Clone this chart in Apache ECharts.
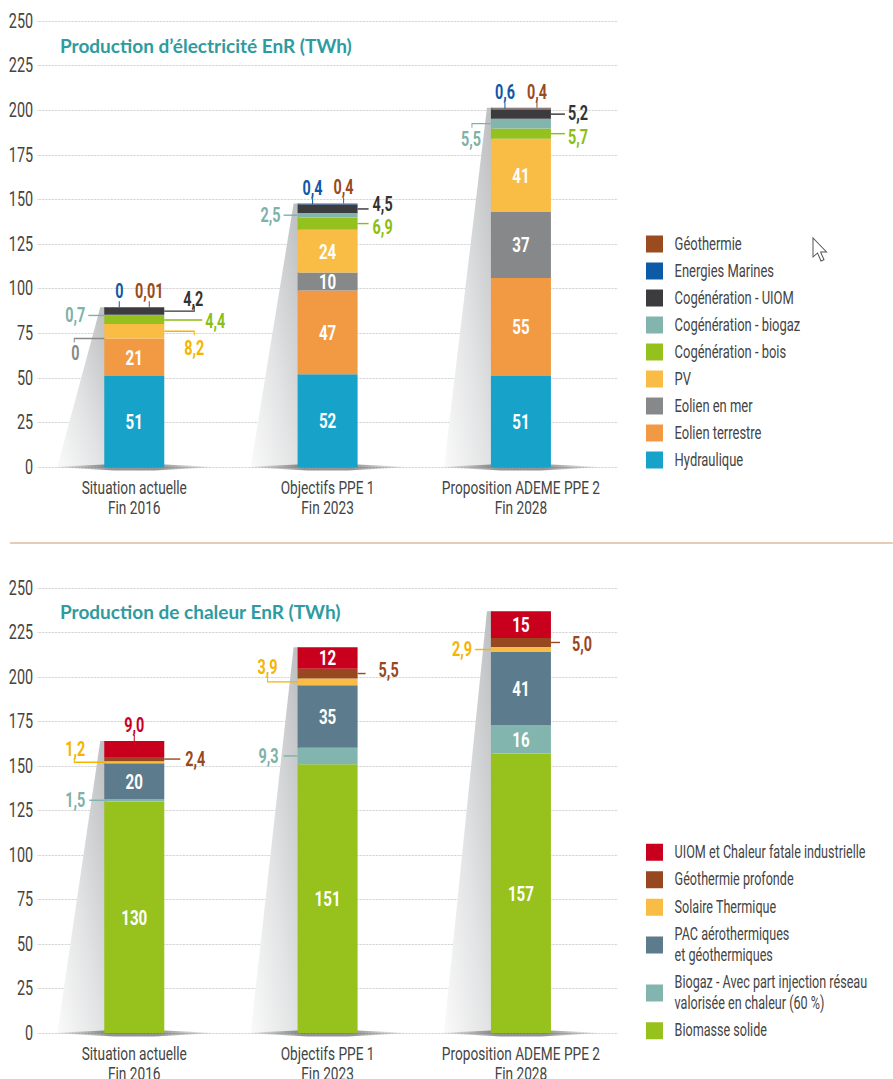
<!DOCTYPE html>
<html><head><meta charset="utf-8">
<script src="https://cdn.jsdelivr.net/npm/echarts@6/dist/echarts.min.js"></script>
<style>
html,body{margin:0;padding:0;background:#fff;overflow:hidden;width:893px;height:1079px}
#c{width:1240px;height:1079px;transform:scaleX(0.72);transform-origin:0 0}
</style>
</head><body><div id="c"></div>
<script>
// ---------- DATA ----------
const categories = ['Situation actuelle\nFin 2016', 'Objectifs PPE 1\nFin 2023', 'Proposition ADEME PPE 2\nFin 2028'];
const yTicks = [0, 25, 50, 75, 100, 125, 150, 175, 200, 225, 250];

// Electricity (stack order bottom -> top)
const elecNames = ['Hydraulique', 'Eolien terrestre', 'Eolien en mer', 'PV', 'Cogénération - bois',
  'Cogénération - biogaz', 'Cogénération - UIOM', 'Energies Marines', 'Géothermie'];
const elecHydraulique   = [51, 52, 51];
const elecEolienTerre   = [21, 47, 55];
const elecEolienMer     = [0, 10, 37];
const elecPV            = [8.2, 24, 41];
const elecCogenBois     = [4.4, 6.9, 5.7];
const elecCogenBiogaz   = [0.7, 2.5, 5.5];
const elecCogenUIOM     = [4.2, 4.5, 5.2];
const elecMarines       = [0, 0.4, 0.6];
const elecGeothermie    = [0.01, 0.4, 0.4];

// Heat (stack order bottom -> top)
const chalNames = ['Biomasse solide', 'Biogaz - Avec part injection réseau\nvalorisée en chaleur (60 %)',
  'PAC aérothermiques\net géothermiques', 'Solaire Thermique', 'Géothermie profonde',
  'UIOM et Chaleur fatale industrielle'];
const chalBiomasse = [130, 151, 157];
const chalBiogaz   = [1.5, 9.3, 16];
const chalPAC      = [20, 35, 41];
const chalSolaire  = [1.2, 3.9, 2.9];
const chalGeo      = [2.4, 5.5, 5.0];
const chalUIOM     = [9.0, 12, 15];

const titles = ['Production d’électricité EnR (TWh)', 'Production de chaleur EnR (TWh)'];

// ---------- STYLE ----------
const S = 0.72;                 // horizontal condensation of the page (DIN-condensed look)
const X = v => v / S;           // screen px -> chart px (horizontal)
const FONT = "Roboto, 'DejaVu Sans', sans-serif";
const BAR_W = 60;               // screen px
const elecColors = ['#17a2c9', '#f29a43', '#87888a', '#f9bd45', '#95c11f', '#82b5ad', '#3c3c3e', '#0d5aa7', '#9a4b20'];
const elecLabelColors = ['#17a2c9', '#f29a43', '#8a8a8a', '#f5b400', '#8cbd14', '#7db2a9', '#333333', '#0f58a6', '#9a4a1f'];
const chalColors = ['#97c11c', '#82b5ad', '#5c7b8c', '#f9bd45', '#97481f', '#c8001e'];
const chalLabelColors = ['#97c11c', '#7db2a9', '#5c7b8c', '#f5b400', '#97481f', '#c8001e'];

// callout layouts (screen px offsets, style only): s = series index, c = category index
const elecCallouts = [
  {s:7, c:0, side:'top', dx:-15},
  {s:8, c:0, side:'top', dx:15},
  {s:6, c:0, side:'right', line:[[0,0],[30,0],[30,-5]], lx:29, ly:-12, align:'center'},
  {s:4, c:0, side:'right', line:[[0,0],[38,0]], lx:41, ly:1, align:'left'},
  {s:3, c:0, side:'right', line:[[0,0],[30,0],[30,4]], lx:30, ly:17, align:'center'},
  {s:5, c:0, side:'left', line:[[0,0],[-16,0]], lx:-19, ly:0, align:'right'},
  {s:2, c:0, side:'left', line:[[0,0],[-30,0],[-30,4]], lx:-29, ly:15, align:'center'},
  {s:7, c:1, side:'top', dx:-15},
  {s:8, c:1, side:'top', dx:16},
  {s:6, c:1, side:'right', line:[[0,0],[11,0]], lx:15, ly:-5, align:'left'},
  {s:4, c:1, side:'right', line:[[0,0],[11,0]], lx:15, ly:4, align:'left'},
  {s:5, c:1, side:'left', line:[[0,0],[-14,0]], lx:-17, ly:0, align:'right'},
  {s:7, c:2, side:'top', dx:-16},
  {s:8, c:2, side:'top', dx:16},
  {s:6, c:2, side:'right', line:[[0,0],[14,0]], lx:17, ly:-1, align:'left'},
  {s:4, c:2, side:'right', line:[[0,0],[14,0]], lx:17, ly:3, align:'left'},
  {s:5, c:2, side:'left', line:[[0,0],[-19,0],[-19,4]], lx:-20, ly:15, align:'center'}
];
const chalCallouts = [
  {s:5, c:0, side:'top', dx:0},
  {s:3, c:0, side:'left', line:[[0,0],[-30,0],[-30,-4]], lx:-29, ly:-13, align:'center'},
  {s:4, c:0, side:'right', line:[[0,0],[16,0]], lx:21, ly:0, align:'left'},
  {s:1, c:0, side:'left', line:[[0,0],[-15,0]], lx:-19, ly:0, align:'right'},
  {s:1, c:1, side:'left', line:[[0,0],[-14,0]], lx:-19, ly:0, align:'right'},
  {s:3, c:1, side:'left', line:[[0,0],[-30,0],[-30,-5]], lx:-30, ly:-15, align:'center'},
  {s:4, c:1, side:'right', line:[[0,0],[8,0]], lx:21, ly:-3, align:'left'},
  {s:3, c:2, side:'left', line:[[0,0],[-16,0]], lx:-19, ly:0, align:'right'},
  {s:4, c:2, side:'right', line:[[0,0],[9,0]], lx:21, ly:2, align:'left'}
];

function fmt(v) {
  if (v === 0) return '0';
  if (v < 0.1) return String(v).replace('.', ',');
  if (v >= 10) return String(Math.round(v));
  return v.toFixed(1).replace('.', ',');
}

function cumulative(seriesData) {
  const n = seriesData[0].length;
  const lows = [], highs = [];
  const acc = new Array(n).fill(0);
  seriesData.forEach(d => {
    lows.push(acc.slice());
    d.forEach((v, i) => acc[i] += v);
    highs.push(acc.slice());
  });
  return {lows, highs, totals: acc};
}

function buildSeries(g, names, seriesData, colors, labelColors, callouts) {
  const cum = cumulative(seriesData);
  const out = [];
  // shading wedge + base shadow
  out.push({
    type: 'custom', xAxisIndex: g, yAxisIndex: g, z: 1, silent: true,
    data: cum.totals.map((t, i) => [i, t]),
    renderItem: function (params, api) {
      const c = api.value(0);
      const top = api.coord([c, api.value(1)]);
      const base = api.coord([c, 0]);
      const cx = top[0];
      const L = cx - X(BAR_W / 2);
      return {type: 'group', children: [
        {type: 'polygon', shape: {points: [[L - X(4), top[1]], [L + X(2), top[1]], [L + X(2), base[1]], [L - X(47), base[1]]]},
          style: {fill: new echarts.graphic.LinearGradient(1, 0, 0, 1, [
            {offset: 0, color: '#bcbdbf'}, {offset: 0.55, color: '#e2e3e4'}, {offset: 1, color: '#fafafa'}])}},
        {type: 'polygon', shape: {points: [[cx - X(82), base[1]], [cx - X(20), base[1] - 3], [cx + X(20), base[1] - 3],
            [cx + X(82), base[1]], [cx + X(20), base[1] + 3.5], [cx - X(20), base[1] + 3.5]]},
          style: {fill: new echarts.graphic.LinearGradient(0, 0, 1, 0, [
            {offset: 0, color: 'rgba(0,0,0,0)'}, {offset: 0.35, color: 'rgba(0,0,0,0.42)'},
            {offset: 0.65, color: 'rgba(0,0,0,0.42)'}, {offset: 1, color: 'rgba(0,0,0,0)'}])}}
      ]};
    }
  });
  names.forEach((name, s) => {
    out.push({
      type: 'bar', name: name, stack: 'st' + g, xAxisIndex: g, yAxisIndex: g, z: 2,
      barWidth: X(BAR_W), data: seriesData[s],
      itemStyle: {color: colors[s]},
      label: {show: true, position: 'inside', color: '#fff', fontFamily: FONT, fontWeight: 'bold', fontSize: 21,
        formatter: p => (p.value >= 10 ? fmt(p.value) : '')},
      emphasis: {disabled: true}
    });
  });
  out.push({
    type: 'custom', xAxisIndex: g, yAxisIndex: g, z: 5, silent: true,
    data: callouts.map((sp, k) => [sp.c, cum.lows[sp.s][sp.c], cum.highs[sp.s][sp.c], k]),
    renderItem: function (params, api) {
      const sp = callouts[api.value(3)];
      const c = sp.c;
      const lo = api.coord([c, api.value(1)]);
      const hi = api.coord([c, api.value(2)]);
      const cx = lo[0];
      const color = labelColors[sp.s];
      const txt = fmt(seriesData[sp.s][c]);
      let pts, tx, ty, align;
      if (sp.side === 'top') {
        const ax = cx + X(sp.dx), ay = hi[1];
        pts = [[ax, ay], [ax, ay - 6]];
        tx = ax; ty = ay - 16; align = 'center';
      } else {
        const ax = cx + X(sp.side === 'right' ? BAR_W / 2 : -BAR_W / 2);
        const ay = (lo[1] + hi[1]) / 2;
        pts = sp.line.map(p => [ax + X(p[0]), ay + p[1]]);
        tx = ax + X(sp.lx); ty = ay + sp.ly; align = sp.align;
      }
      return {type: 'group', children: [
        {type: 'polyline', shape: {points: pts}, style: {stroke: color, lineWidth: 1.4, fill: null}},
        {type: 'text', x: tx, y: ty, style: {text: txt, fill: color, font: 'bold 20px ' + FONT, align: align, verticalAlign: 'middle'}}
      ]};
    }
  });
  return out;
}

const elecData = [elecHydraulique, elecEolienTerre, elecEolienMer, elecPV, elecCogenBois, elecCogenBiogaz, elecCogenUIOM, elecMarines, elecGeothermie];
const chalData = [chalBiomasse, chalBiogaz, chalPAC, chalSolaire, chalGeo, chalUIOM];

function xAxis(g) {
  return {type: 'category', gridIndex: g, data: categories,
    axisLine: {show: false}, axisTick: {show: false},
    axisLabel: {interval: 0, color: '#444', fontFamily: FONT, fontSize: 19, lineHeight: 20, margin: 11}};
}
function yAxis(g) {
  return {type: 'value', gridIndex: g, min: yTicks[0], max: yTicks[yTicks.length - 1], interval: yTicks[1] - yTicks[0],
    axisLine: {show: false}, axisTick: {show: false},
    axisLabel: {color: '#444', fontFamily: FONT, fontSize: 20, margin: X(4.5)},
    splitLine: {show: true, lineStyle: {color: '#b8b8b8', type: 'dotted', width: 1}}};
}
function legend(names, top, fontSize, lineHeight, gap) {
  return {orient: 'vertical', left: X(646), top: top, padding: 0, itemWidth: X(17), itemHeight: 17, itemGap: gap,
    icon: 'rect', selectedMode: false, data: names.slice().reverse(),
    textStyle: {color: '#444', fontFamily: FONT, fontSize: fontSize, lineHeight: lineHeight, padding: [0, 0, 0, X(8)]}};
}

const chart = echarts.init(document.getElementById('c'), null, {renderer: 'svg'});
chart.setOption({
  animation: false,
  backgroundColor: '#fff',
  grid: [
    {left: X(37.6), top: 21, width: X(580), height: 446, outerBoundsMode: 'none', containLabel: false},
    {left: X(37.6), top: 588, width: X(580), height: 445, outerBoundsMode: 'none', containLabel: false}
  ],
  xAxis: [xAxis(0), xAxis(1)],
  yAxis: [yAxis(0), yAxis(1)],
  legend: [legend(elecNames, 235, 18, 18, 9), legend(chalNames, 842, 17.5, 20.5, 7)],
  graphic: [
    {type: 'text', x: X(60), y: 46, scaleX: 1 / S, style: {text: titles[0], fill: '#2e9ba0', font: 'bold 19px Lato', verticalAlign: 'middle'}},
    {type: 'text', x: X(60), y: 612, scaleX: 1 / S, style: {text: titles[1], fill: '#2e9ba0', font: 'bold 19px Lato', verticalAlign: 'middle'}},
    {type: 'line', shape: {x1: X(10), y1: 543, x2: X(893), y2: 543}, style: {stroke: '#e8cbb4', lineWidth: 2}},
    {type: 'polygon', x: X(813), y: 238, scaleX: 1 / S, shape: {points: [[0,0],[0,19],[4.5,15],[8,23],[11,21.8],[7.6,14],[13.5,14]]},
      style: {fill: '#fff', stroke: '#555', lineWidth: 1}}
  ],
  series: [].concat(
    buildSeries(0, elecNames, elecData, elecColors, elecLabelColors, elecCallouts),
    buildSeries(1, chalNames, chalData, chalColors, chalLabelColors, chalCallouts)
  )
});
</script>
</body></html>
